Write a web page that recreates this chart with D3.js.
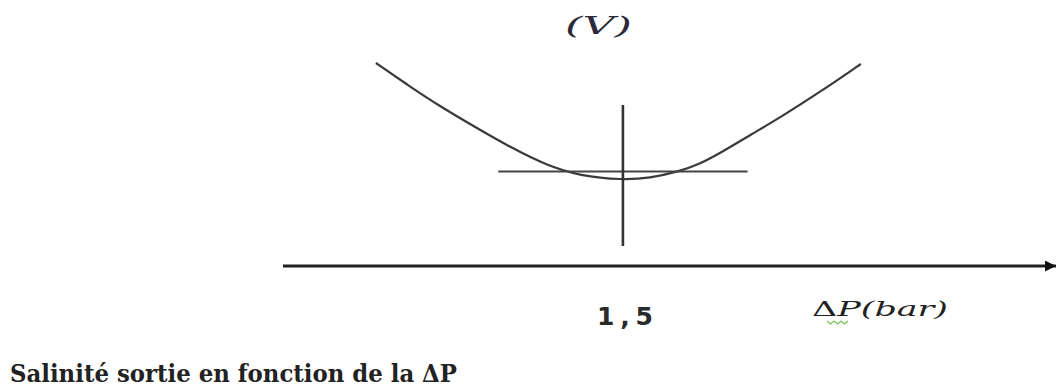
<!doctype html>
<html lang="fr">
<head>
    <meta charset="utf-8"/>
    <title>Salinité sortie en fonction de la ΔP</title>
    <script src="https://d3js.org/d3.v7.min.js"></script>
    <style>
        body { margin: 0; padding: 0; background: #fff; }
        svg { display: block; }
    </style>
</head>
<body>
<script>
    // ΔP (bar) sur l'axe horizontal
    const dpValues = [0.41, 0.55, 0.69, 0.87, 1.01, 1.16, 1.31, 1.50, 1.62, 1.74, 1.84, 1.93, 2.10, 2.19, 2.37, 2.55];
    // salinité en sortie (unités arbitraires, pas d'axe gradué)
    const salValues = [4.06, 3.62, 3.20, 2.72, 2.36, 2.02, 1.80, 1.72, 1.76, 1.88, 2.04, 2.26, 2.72, 2.96, 3.48, 4.04];

    // croix qui marque le minimum
    const optimumDP = 1.5;
    const crossH = [0.95, 2.05];   // étendue du trait horizontal (ΔP)
    const crossHLevel = 1.89;      // niveau du trait horizontal
    const crossV = [0.40, 3.22];   // étendue du trait vertical (salinité)

    const tickLabels = ["1,5"];
    const axisDomain = [0, 3.42];

    const width = 1057, height = 388;

    const svg = d3.select("body").append("svg")
        .attr("width", width)
        .attr("height", height);

    const x = d3.scaleLinear().domain(axisDomain).range([283, 1058]);
    const y = d3.scaleLinear().domain([0, 5]).range([266, 16]);

    // la courbe en U
    const pts = dpValues.map((d, i) => [d, salValues[i]]);
    const line = d3.line()
        .x(d => x(d[0]))
        .y(d => y(d[1]))
        .curve(d3.curveBasis);

    svg.append("path")
        .datum(pts)
        .attr("d", line)
        .attr("fill", "none")
        .attr("stroke", "#3a3a3a")
        .attr("stroke-width", 2.2);

    // croix
    svg.append("line")
        .attr("x1", x(crossH[0])).attr("x2", x(crossH[1]))
        .attr("y1", y(crossHLevel)).attr("y2", y(crossHLevel))
        .attr("stroke", "#444").attr("stroke-width", 2.2);

    svg.append("line")
        .attr("x1", x(optimumDP)).attr("x2", x(optimumDP))
        .attr("y1", y(crossV[0])).attr("y2", y(crossV[1]))
        .attr("stroke", "#333").attr("stroke-width", 2.6);

    // axe horizontal avec flèche
    svg.append("defs").append("marker")
        .attr("id", "arrow")
        .attr("viewBox", "0 0 10 10")
        .attr("refX", 10).attr("refY", 5)
        .attr("markerWidth", 18).attr("markerHeight", 11)
        .attr("markerUnits", "userSpaceOnUse")
        .attr("orient", "auto")
        .append("path")
        .attr("d", "M0,0 L10,5 L0,10 Z")
        .attr("fill", "#111");

    svg.append("line")
        .attr("x1", x(axisDomain[0])).attr("x2", x(axisDomain[1]) - 2)
        .attr("y1", y(0)).attr("y2", y(0))
        .attr("stroke", "#222").attr("stroke-width", 3)
        .attr("marker-end", "url(#arrow)");

    // graduation 1,5
    svg.append("text")
        .attr("x", x(optimumDP) + 2)
        .attr("y", 325)
        .attr("text-anchor", "middle")
        .attr("font-family", "DejaVu Sans, sans-serif")
        .attr("font-weight", "bold")
        .attr("font-size", 25)
        .attr("fill", "#2a2a2a")
        .attr("textLength", 56)
        .attr("lengthAdjust", "spacing")
        .text(tickLabels[0]);

    // titre de l'axe
    const axisTitle = svg.append("text")
        .attr("x", 812)
        .attr("y", 316)
        .attr("font-family", "DejaVu Serif, serif")
        .attr("font-style", "italic")
        .attr("font-size", 20)
        .attr("fill", "#222");
    axisTitle.append("tspan").attr("font-style", "normal").text("Δ");
    axisTitle.append("tspan").text("P(bar)");
    axisTitle.attr("textLength", 136).attr("lengthAdjust", "spacingAndGlyphs");

    // soulignement ondulé vert sous le P
    svg.append("path")
        .attr("d", d3.range(0, 7).map((k, i) =>
            (i === 0 ? "M" : "L") + (827 + k * 3.5) + "," + (321 + (k % 2 ? 3 : 0))).join(" "))
        .attr("fill", "none")
        .attr("stroke", "#7fbf5a")
        .attr("stroke-width", 1.3);

    // (V)
    svg.append("text")
        .attr("x", 565)
        .attr("y", 34)
        .attr("font-family", "DejaVu Serif, serif")
        .attr("font-style", "italic")
        .attr("font-size", 24)
        .attr("fill", "#2a2a3a")
        .attr("textLength", 67)
        .attr("lengthAdjust", "spacingAndGlyphs")
        .text("(V)");

    // légende en bas
    svg.append("text")
        .attr("x", 10)
        .attr("y", 382)
        .attr("font-family", "DejaVu Serif, serif")
        .attr("font-weight", "bold")
        .attr("font-size", 25)
        .attr("fill", "#222")
        .attr("textLength", 447)
        .attr("lengthAdjust", "spacingAndGlyphs")
        .text("Salinité sortie en fonction de la ΔP");
</script>
</body>
</html>
